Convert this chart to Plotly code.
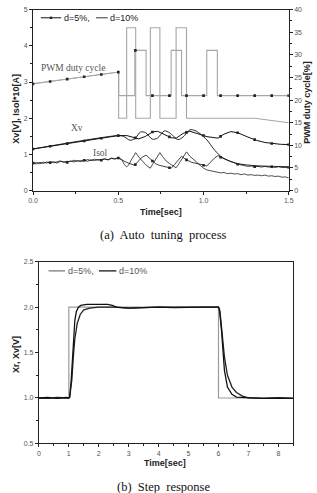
import numpy as np
import plotly.graph_objects as go

# ---------------- (a) Auto tuning process ----------------
# PWM duty cycle [%] (right axis)
t_pwm5 = [0, 0.502, 0.502, 0.597, 0.597, 0.663, 0.663, 0.810, 0.810, 0.871, 0.871, 1.019, 1.019, 1.081, 1.081, 1.5]
v_pwm5 = [23.6, 26.2, 21, 21, 31, 31, 21, 21, 31, 31, 21, 21, 31, 31, 21, 21]
t_pwm10 = [0, 0.502, 0.502, 0.549, 0.549, 0.602, 0.602, 0.688, 0.688, 0.744, 0.744, 0.839, 0.839, 0.900, 0.900, 1.30, 1.5]
v_pwm10 = [23.6, 26.2, 16, 16, 36, 36, 16, 16, 36, 36, 16, 16, 36, 36, 16, 16, 15]

# Xv [V] (left axis)
t_xv5 = [0, 0.5, 0.55, 0.59, 0.62, 0.66, 0.70, 0.73, 0.77, 0.81, 0.84, 0.88, 0.92, 0.97, 1.02, 1.085,
         1.12, 1.16, 1.20, 1.26, 1.31, 1.36, 1.40, 1.45, 1.50]
v_xv5 = [1.15, 1.52, 1.52, 1.47, 1.43, 1.50, 1.62, 1.64, 1.56, 1.46, 1.45, 1.58, 1.64, 1.57, 1.49, 1.45,
         1.56, 1.63, 1.60, 1.48, 1.39, 1.33, 1.30, 1.28, 1.27]
t_xv10 = [0, 0.5, 0.53, 0.57, 0.60, 0.63, 0.66, 0.70, 0.73, 0.77, 0.80, 0.85, 0.88, 0.92, 0.95, 0.98,
          1.02, 1.06, 1.10, 1.16, 1.22, 1.30, 1.40, 1.50]
v_xv10 = [1.15, 1.52, 1.50, 1.39, 1.45, 1.62, 1.60, 1.42, 1.45, 1.65, 1.60, 1.41, 1.48, 1.68, 1.66, 1.57,
          1.40, 1.15, 0.95, 0.80, 0.73, 0.69, 0.67, 0.66]

# Isol*10 [A] (left axis)
t_is_ramp = [0.00, 0.02, 0.04, 0.06, 0.08, 0.10, 0.12, 0.14, 0.16, 0.18, 0.20, 0.22, 0.24, 0.26, 0.28,
             0.30, 0.32, 0.34, 0.36, 0.38, 0.40, 0.42, 0.44, 0.46, 0.48, 0.50]
v_is5_ramp = [0.76, 0.74, 0.78, 0.75, 0.79, 0.77, 0.80, 0.76, 0.81, 0.79, 0.78, 0.82, 0.79, 0.83, 0.80,
              0.84, 0.81, 0.85, 0.83, 0.86, 0.84, 0.87, 0.85, 0.89, 0.87, 0.90]
v_is10_ramp = [0.75, 0.78, 0.74, 0.79, 0.76, 0.80, 0.77, 0.79, 0.82, 0.78, 0.81, 0.80, 0.84, 0.81, 0.83,
               0.82, 0.86, 0.83, 0.87, 0.84, 0.86, 0.88, 0.85, 0.90, 0.88, 0.91]
t_is5_osc = [0.52, 0.54, 0.56, 0.58, 0.597, 0.61, 0.625, 0.64, 0.663, 0.68, 0.70, 0.72, 0.74, 0.76, 0.78,
             0.795, 0.81, 0.83, 0.85, 0.871, 0.89, 0.91, 0.93, 0.95, 0.97, 0.99, 1.00, 1.019, 1.04, 1.06,
             1.085, 1.10, 1.12, 1.14, 1.16, 1.18, 1.20, 1.22, 1.24, 1.26, 1.28, 1.30, 1.32, 1.34, 1.36,
             1.38, 1.40, 1.42, 1.44, 1.46, 1.48, 1.50]
v_is5_osc = [0.84, 0.80, 0.76, 0.73, 0.70, 0.78, 0.85, 0.92, 0.98, 0.90, 0.82, 0.74, 0.70, 0.68, 0.66,
             0.64, 0.62, 0.72, 0.84, 0.95, 0.88, 0.82, 0.78, 0.76, 0.75, 0.72, 0.70, 0.68, 0.78, 0.88,
             0.97, 0.92, 0.88, 0.85, 0.82, 0.77, 0.73, 0.70, 0.69, 0.67, 0.68, 0.66, 0.67, 0.65, 0.67,
             0.65, 0.66, 0.64, 0.66, 0.64, 0.65, 0.64]
t_is10_osc = [0.52, 0.535, 0.549, 0.56, 0.575, 0.59, 0.602, 0.62, 0.64, 0.66, 0.675, 0.688, 0.70, 0.72,
              0.744, 0.76, 0.78, 0.80, 0.82, 0.839, 0.855, 0.87, 0.885, 0.90, 0.92, 0.94, 0.96, 0.98,
              1.00, 1.02, 1.04, 1.06, 1.08, 1.10, 1.12, 1.14, 1.16, 1.18, 1.20, 1.22, 1.24, 1.26, 1.28,
              1.30, 1.32, 1.34, 1.36, 1.38, 1.40, 1.42, 1.44, 1.46, 1.48, 1.50]
v_is10_osc = [0.86, 0.72, 0.66, 0.70, 0.84, 0.95, 1.05, 0.93, 0.82, 0.72, 0.66, 0.62, 0.72, 0.88,
              1.05, 0.94, 0.82, 0.75, 0.68, 0.63, 0.74, 0.86, 0.97, 1.07, 0.95, 0.86, 0.78, 0.70,
              0.62, 0.57, 0.55, 0.53, 0.52, 0.49, 0.50, 0.47, 0.48, 0.46, 0.47, 0.44, 0.46, 0.43, 0.44,
              0.42, 0.43, 0.41, 0.43, 0.40, 0.41, 0.39, 0.40, 0.37, 0.38, 0.35]

t_is5 = t_is_ramp + t_is5_osc
v_is5 = v_is5_ramp + v_is5_osc
t_is10 = t_is_ramp + t_is10_osc
v_is10 = v_is10_ramp + v_is10_osc

marker_times = [round(0.1 * i, 1) for i in range(16)]
legend_labels = ["d=5%,", "d=10%"]

# ---------------- (b) Step response ----------------
t_xr = [0, 1, 1, 6, 6, 8.5]
v_xr = [1, 1, 2, 2, 1, 1]
t_step5 = [0, 0.3, 0.6, 0.9, 1.0, 1.03, 1.08, 1.12, 1.16, 1.20, 1.25, 1.32, 1.40, 1.6, 2.0, 2.3, 2.45, 2.6,
           3.0, 3.5, 4.0, 4.5, 5.0, 5.5, 6.0, 6.03, 6.10, 6.15, 6.20, 6.30, 6.45, 6.60, 7.0, 7.5, 8.0, 8.5]
v_step5 = [1.0, 1.005, 0.995, 1.005, 1.0, 1.01, 1.2, 1.45, 1.70, 1.85, 1.95, 2.0, 2.02, 2.03, 2.03, 2.03,
           2.02, 2.0, 1.99, 1.995, 2.0, 1.995, 2.0, 2.0, 2.0, 1.98, 1.75, 1.5, 1.3, 1.12, 1.04, 1.01, 1.0,
           0.995, 1.0, 0.995]
t_step10 = [0, 0.3, 0.6, 0.9, 1.0, 1.03, 1.10, 1.15, 1.20, 1.28, 1.38, 1.50, 1.70, 2.0, 2.5, 3.0, 4.0, 5.0,
            6.0, 6.05, 6.12, 6.20, 6.30, 6.45, 6.60, 6.80, 7.0, 7.5, 8.0, 8.5]
v_step10 = [1.0, 0.995, 1.005, 0.995, 1.0, 1.01, 1.2, 1.45, 1.65, 1.82, 1.92, 1.97, 1.99, 2.0, 2.0, 1.99,
            2.0, 2.0, 2.0, 1.95, 1.70, 1.45, 1.25, 1.12, 1.06, 1.02, 1.0, 0.995, 1.0, 0.995]

W, H = 317, 493
def px(x):
    return x / W
def py(y):
    return 1 - y / H

fig = go.Figure()
GRAY = "#a6a6a6"
MK = dict(symbol="square", size=2.6, color="#222")

def add_marked(t, v, xa, ya, color, width):
    fig.add_trace(go.Scatter(x=t, y=v, mode="lines", line=dict(color=color, width=width),
                             xaxis=xa, yaxis=ya, showlegend=False, hoverinfo="skip"))
    mv = np.interp(marker_times, t, v)
    fig.add_trace(go.Scatter(x=marker_times, y=mv, mode="markers", marker=MK,
                             xaxis=xa, yaxis=ya, showlegend=False, hoverinfo="skip"))

# PWM (right axis)
fig.add_trace(go.Scatter(x=t_pwm10, y=v_pwm10, mode="lines", line=dict(color=GRAY, width=1.1),
                         xaxis="x", yaxis="y2", showlegend=False))
add_marked(t_pwm5, v_pwm5, "x", "y2", GRAY, 1.1)
# Xv
fig.add_trace(go.Scatter(x=t_xv10, y=v_xv10, mode="lines",
                         line=dict(color="#111", width=0.9, shape="spline", smoothing=0.8),
                         xaxis="x", yaxis="y", showlegend=False))
add_marked(t_xv5, v_xv5, "x", "y", "#111", 1.0)
# Isol
fig.add_trace(go.Scatter(x=t_is10, y=v_is10, mode="lines", line=dict(color="#222", width=0.8),
                         xaxis="x", yaxis="y", showlegend=False))
add_marked(t_is5, v_is5, "x", "y", "#111", 0.8)

# bottom chart
fig.add_trace(go.Scatter(x=t_xr, y=v_xr, mode="lines", line=dict(color="#9a9a9a", width=1.2),
                         xaxis="x3", yaxis="y3", showlegend=False))
fig.add_trace(go.Scatter(x=t_step10, y=v_step10, mode="lines", line=dict(color="#222", width=1.3),
                         xaxis="x3", yaxis="y3", showlegend=False))
fig.add_trace(go.Scatter(x=t_step5, y=v_step5, mode="lines", line=dict(color="#111", width=1.3),
                         xaxis="x3", yaxis="y3", showlegend=False))

TICKFONT = dict(family="Liberation Sans, Arial", size=7, color="#555")
axis_common = dict(showline=True, linecolor="#222", linewidth=1, ticks="outside", ticklen=3,
                   tickcolor="#222", tickwidth=0.8, tickfont=TICKFONT, showgrid=False, zeroline=False)
minor = lambda d: dict(dtick=d, ticklen=2, ticks="outside", tickcolor="#222")

fig.update_layout(
    width=W, height=H, margin=dict(l=0, r=0, t=0, b=0),
    paper_bgcolor="white", plot_bgcolor="white", showlegend=False,
    xaxis=dict(domain=[px(29), px(293)], range=[0, 1.5], anchor="y", dtick=0.5, tick0=0,
               tickformat=".1f", mirror=True, minor=minor(0.25), **axis_common),
    yaxis=dict(domain=[py(189.3), py(5.7)], range=[0, 5], anchor="x", dtick=1, mirror=False,
               minor=minor(0.5), **axis_common),
    yaxis2=dict(overlaying="y", side="right", range=[0, 40], anchor="x", dtick=5,
                minor=minor(2.5), **axis_common),
    xaxis3=dict(domain=[px(35), px(297.7)], range=[0, 8.5], anchor="y3", dtick=1, mirror=True,
                minor=minor(0.5), **axis_common),
    yaxis3=dict(domain=[py(445.7), py(261.5)], range=[0.5, 2.5], anchor="x3", dtick=0.5, tickformat=".1f",
                mirror=True, minor=minor(0.25), **axis_common),
)

# ---- legends (drawn as swatches + text) ----
LEGFONT = dict(family="Liberation Sans, Arial", size=9, color="#222")
def legend_line(x0, x1, y, color, width):
    fig.add_shape(type="line", xref="paper", yref="paper", x0=px(x0), x1=px(x1), y0=py(y), y1=py(y),
                  line=dict(color=color, width=width))
def legend_text(x, y, text, color="#222"):
    fig.add_annotation(text=text, x=px(x), y=py(y), xref="paper", yref="paper", showarrow=False,
                       xanchor="left", yanchor="middle", font=dict(LEGFONT, color=color))

legend_line(37, 58, 14, "#111", 1.0)
fig.add_shape(type="rect", xref="paper", yref="paper", x0=px(46.3), x1=px(48.7), y0=py(15.2), y1=py(12.8),
              line=dict(width=0), fillcolor="#222")
legend_text(58.5, 14, legend_labels[0])
legend_line(94, 106, 14, "#333", 1.0)
legend_text(106.5, 14, legend_labels[1])

legend_line(45, 62, 270.7, "#8c8c8c", 1.5)
legend_text(62.5, 270.7, legend_labels[0], "#555")
legend_line(97, 115, 270.7, "#444", 1.6)
legend_text(115.5, 270.7, legend_labels[1], "#555")

BOLD = dict(family="Liberation Sans, Arial", size=9, color="#222")
SERIF = dict(family="Liberation Serif, Times New Roman", size=9.5, color="#555")
ann = [
    dict(text="<b>Time[sec]</b>", x=px(161), y=py(211), font=BOLD),
    dict(text="<b>Xv[V], Isol*10[A]</b>", x=px(11.5), y=py(106), font=BOLD, textangle=-90),
    dict(text="<b>PWM duty cycle[%]</b>", x=px(311), y=py(100), font=BOLD, textangle=-90),
    dict(text="(a)  Auto  tuning  process", x=px(164), y=py(234.5),
         font=dict(family="Liberation Serif, Times New Roman", size=12.5, color="#111")),
    dict(text="<b>Time[sec]</b>", x=px(165.5), y=py(466), font=BOLD),
    dict(text="<b>Xr, Xv[V]</b>", x=px(11.5), y=py(356), font=BOLD, textangle=-90),
    dict(text="(b)  Step  response", x=px(164), y=py(490),
         font=dict(family="Liberation Serif, Times New Roman", size=12.5, color="#111")),
]
for a in ann:
    fig.add_annotation(xref="paper", yref="paper", showarrow=False, xanchor="center", yanchor="middle", **a)

fig.add_annotation(text="PWM duty cycle", x=0.233, y=3.39, xref="x", yref="y", showarrow=False, font=SERIF)
fig.add_annotation(text="Xv", x=0.259, y=1.72, xref="x", yref="y", showarrow=False, font=SERIF)
fig.add_annotation(text="Isol", x=0.395, y=1.05, xref="x", yref="y", showarrow=False, font=SERIF)

fig.write_html("out.html")
